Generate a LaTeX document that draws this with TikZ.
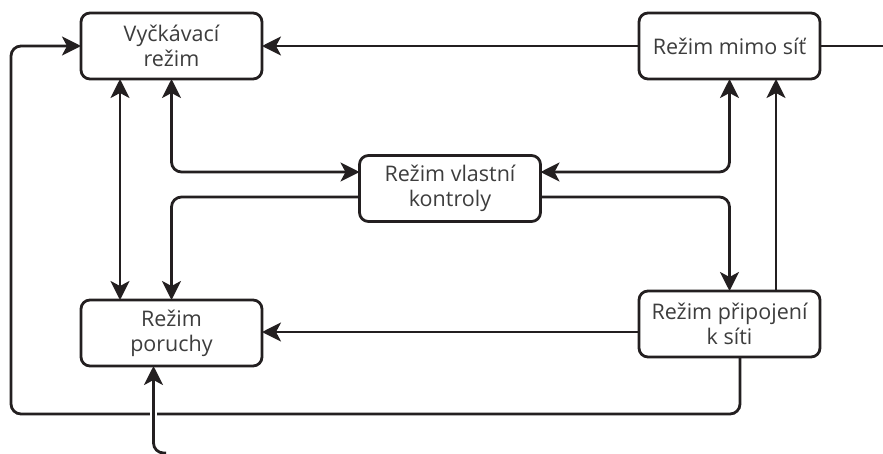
\documentclass[tikz,border=0pt]{standalone}
\usepackage{fontspec}
\setmainfont{Open Sans}
\usetikzlibrary{calc,arrows.meta}

\definecolor{linecol}{HTML}{231F20}
\definecolor{textcol}{HTML}{3D3D3D}

\begin{document}
\begin{tikzpicture}[x=1pt,y=-1pt]
     \tikzstyle{mode}=[draw=linecol, line width=2.8pt, rounded corners=9pt, outer sep=0pt,
       minimum width=181pt, minimum height=66pt, align=center, text=textcol,
       font=\fontsize{21.5}{25}\selectfont]
     \tikzstyle{link}=[draw=linecol, line width=2.8pt, rounded corners=10pt]
     \tikzstyle{arr}=[link, -{Stealth[length=19pt,width=19pt,inset=5pt]}]
     \tikzstyle{dblarr}=[link, {Stealth[length=19pt,width=19pt,inset=5pt]}-{Stealth[length=19pt,width=19pt,inset=5pt]}]

     \useasboundingbox (0,0) rectangle (883,453);

     \node[mode] (wait) at (171.5,46) {Vyčkávací\\režim};
     \node[mode] (offgrid) at (729.5,46) {Režim mimo síť};
     \node[mode] (self) at (450,188.5) {Režim vlastní\\kontroly};
     \node[mode] (fault) at (171.5,333) {Režim\\poruchy};
     \node[mode] (ongrid) at (729.5,324) {Režim připojení\\k síti};

     \coordinate (exitR) at (883,46);
     \coordinate (loopSW) at (11,414);
     \coordinate (entryB) at (166,453);

     % top row
     \draw[arr] (offgrid.west) -- (wait.east);
     \draw[link] (offgrid.east) -- (exitR);

     % outer loop back to waiting mode
     \draw[arr] ([xshift=10.5pt]ongrid.south) |- (loopSW) |- (wait.west);

     % left column
     \draw[dblarr] ([xshift=-51.5pt]wait.south) -- ([xshift=-51.5pt]fault.north);
     \draw[dblarr] (wait.south) |- ([yshift=16.5pt]self.west);
     \draw[arr] ([yshift=-8.5pt]self.west) -| (fault.north);

     % right column
     \draw[dblarr] ([yshift=16.5pt]self.east) -| (offgrid.south);
     \draw[arr] ([yshift=-8.5pt]self.east) -| (ongrid.north);
     \draw[arr] ([xshift=46.5pt]ongrid.north) -- ([xshift=46.5pt]offgrid.south);
     \draw[arr] ([yshift=-8pt]ongrid.west) -- ([yshift=-8pt]ongrid.west -| fault.east);

     % incoming from below, with a gap where it crosses the loop
     \draw[white, line width=7pt] ($([xshift=-18pt]fault.south |- loopSW) + (0,-6)$) -- ++(0,12);
     \draw[arr] (entryB) -| ([xshift=-18pt]fault.south);
\end{tikzpicture}
\end{document}
